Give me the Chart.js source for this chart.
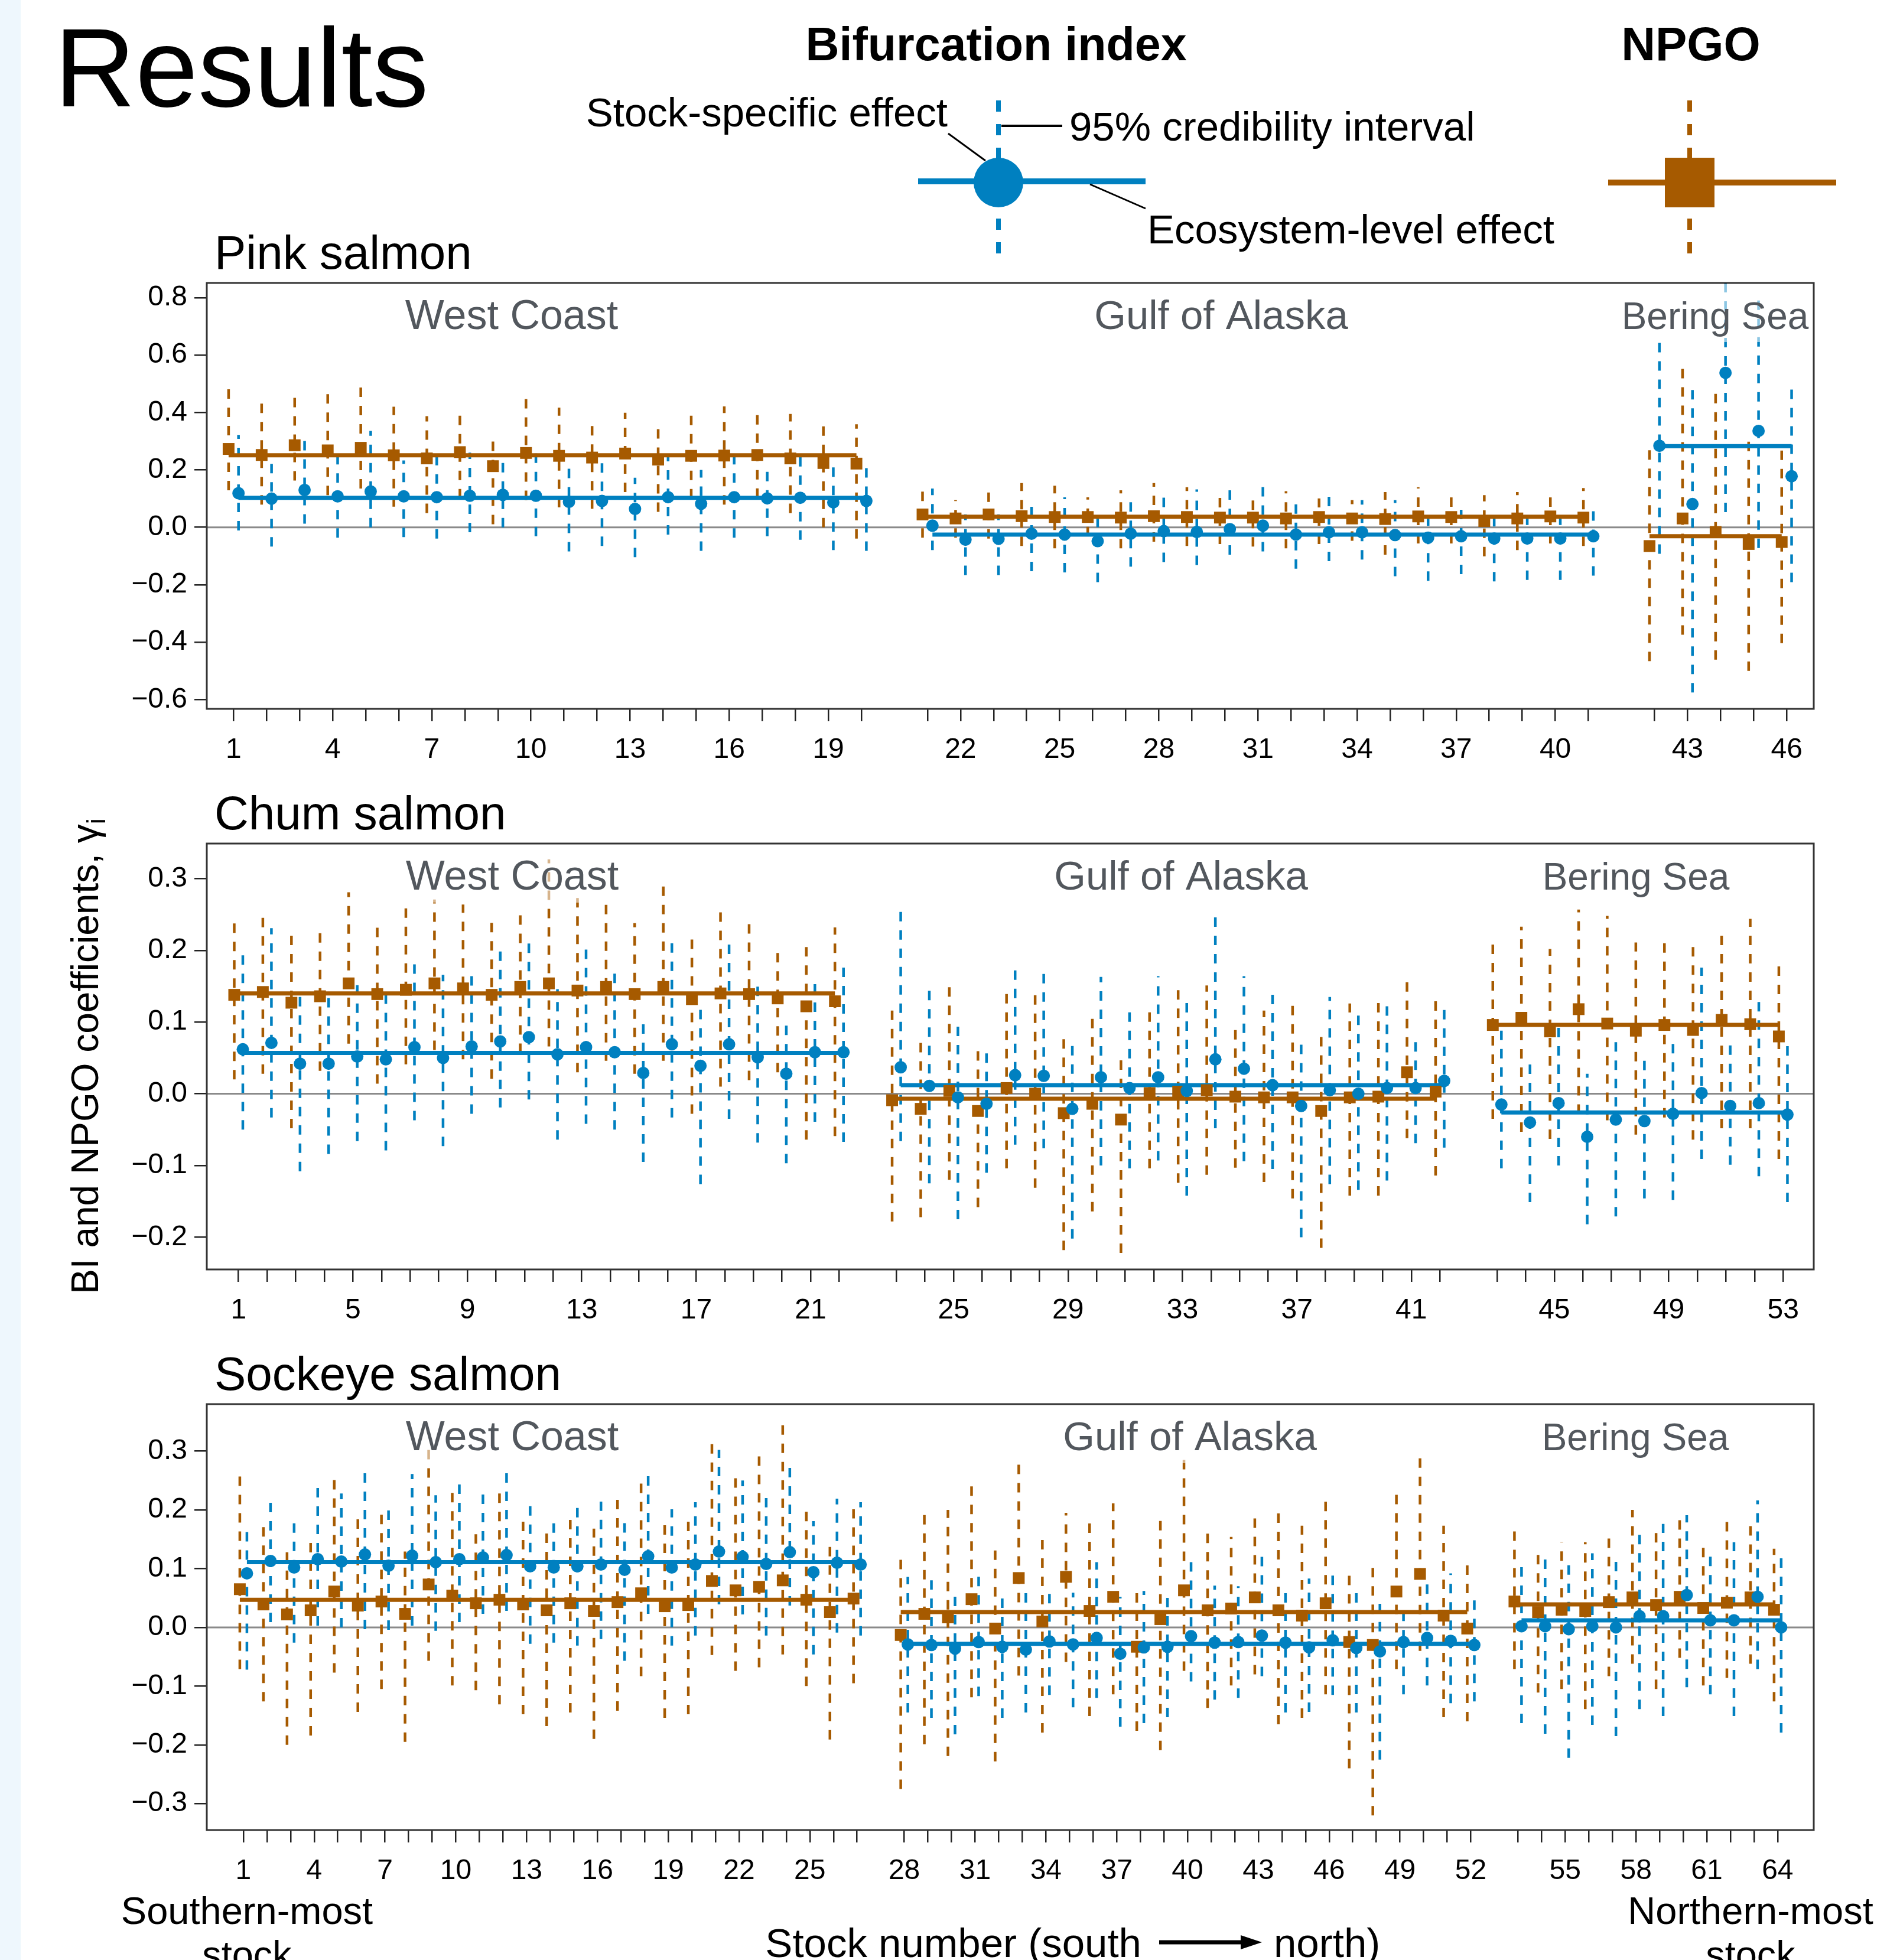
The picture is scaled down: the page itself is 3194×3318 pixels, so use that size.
<!DOCTYPE html>
<html>
<head>
<meta charset="utf-8">
<script src="https://cdn.jsdelivr.net/npm/chart.js@4.4.1/dist/chart.umd.min.js"></script>
<style>
  html, body { margin: 0; padding: 0; background: #fff; }
  body { width: 3194px; height: 3318px; position: relative; overflow: hidden; }
  #strip { position: absolute; left: 0; top: 0; width: 35px; height: 3318px; background: #eef7fd; }
  canvas { position: absolute; left: 0; }
  svg { position: absolute; left: 0; top: 0; pointer-events: none; }
</style>
</head>
<body>
<div id="strip"></div>
<canvas id="pink" width="3194" height="871" style="top:449px"></canvas>
<canvas id="chum" width="3194" height="871" style="top:1398px"></canvas>
<canvas id="sockeye" width="3194" height="871" style="top:2347px"></canvas>

<svg width="3194" height="3318" font-family="'Liberation Sans', Arial, sans-serif">
  <text x="92" y="180" font-size="190">Results</text>
  <text x="1686" y="102" font-size="79" font-weight="bold" text-anchor="middle">Bifurcation index</text>
  <text x="2862" y="102" font-size="80" font-weight="bold" text-anchor="middle">NPGO</text>

  <!-- key: bifurcation index -->
  <line x1="1690" y1="170" x2="1690" y2="440" stroke="#0080c0" stroke-width="8" stroke-dasharray="19 21"/>
  <line x1="1554" y1="307" x2="1939" y2="307" stroke="#0080c0" stroke-width="10"/>
  <circle cx="1690" cy="309" r="42" fill="#0080c0"/>
  <text x="1604" y="214" font-size="69" text-anchor="end">Stock-specific effect</text>
  <line x1="1605" y1="226" x2="1668" y2="272" stroke="#000" stroke-width="3"/>
  <line x1="1695" y1="213" x2="1798" y2="213" stroke="#000" stroke-width="4"/>
  <text x="1810" y="238" font-size="69">95% credibility interval</text>
  <line x1="1845" y1="312" x2="1939" y2="353" stroke="#000" stroke-width="3"/>
  <text x="1942" y="412" font-size="69">Ecosystem-level effect</text>

  <!-- key: NPGO -->
  <line x1="2860" y1="170" x2="2860" y2="440" stroke="#a65a00" stroke-width="8" stroke-dasharray="19 21"/>
  <line x1="2722" y1="309" x2="3108" y2="309" stroke="#a65a00" stroke-width="10"/>
  <rect x="2818" y="267" width="84" height="84" fill="#a65a00"/>

  <!-- panel titles -->
  <text x="363" y="455" font-size="80">Pink salmon</text>
  <text x="363" y="1404" font-size="80">Chum salmon</text>
  <text x="363" y="2353" font-size="80">Sockeye salmon</text>

  <!-- y axis title -->
  <text transform="translate(166,1788) rotate(-90)" font-size="64" text-anchor="middle">BI and NPGO coefficients, γ<tspan font-size="45" dy="12">i</tspan></text>

  <!-- bottom labels -->
  <text x="418" y="3257" font-size="65" text-anchor="middle">Southern-most</text>
  <text x="418" y="3331" font-size="65" text-anchor="middle">stock</text>
  <text x="2963" y="3257" font-size="65" text-anchor="middle">Northern-most</text>
  <text x="2963" y="3331" font-size="65" text-anchor="middle">stock</text>
  <text x="1932" y="3313" font-size="69" text-anchor="end">Stock number (south</text>
  <line x1="1962" y1="3288" x2="2104" y2="3288" stroke="#000" stroke-width="7"/>
  <polygon points="2100,3276 2136,3288 2100,3300" fill="#000"/>
  <text x="2156" y="3313" font-size="69">north)</text>
</svg>

<script>
// ---- colours ----
const BLUE = '#0080c0';
const BROWN = '#a65a00';
Chart.defaults.font.family = "'Liberation Sans', Arial, sans-serif";

// ================= PINK SALMON =================
const pinkRegions = [20, 21, 5];   // West Coast, Gulf of Alaska, Bering Sea
const pinkTickLabels = [1, 4, 7, 10, 13, 16, 19, 22, 25, 28, 31, 34, 37, 40, 43, 46];
const pinkYTicks = [-0.6, -0.4, -0.2, 0, 0.2, 0.4, 0.6, 0.8];

const pinkNPGO = [0.273, 0.252, 0.286, 0.268, 0.277, 0.251, 0.240, 0.262, 0.213, 0.259, 0.249, 0.243, 0.257, 0.236, 0.249, 0.250, 0.252, 0.240, 0.224, 0.222,
  0.045, 0.031, 0.045, 0.039, 0.036, 0.036, 0.034, 0.039, 0.036, 0.034, 0.034, 0.031, 0.036, 0.031, 0.029, 0.038, 0.036, 0.022, 0.031, 0.038, 0.034,
  -0.065, 0.031, -0.016, -0.058, -0.051];
const pinkNPGOLo = [0.129, 0.079, 0.163, 0.112, 0.135, 0.072, 0.050, 0.101, 0.011, 0.095, 0.070, 0.065, 0.123, 0.054, 0.101, 0.079, 0.103, 0.050, 0.000, -0.039,
  -0.036, -0.036, -0.039, -0.065, -0.073, -0.031, -0.073, -0.050, -0.065, -0.058, -0.067, -0.073, -0.058, -0.047, -0.095, -0.056, -0.056, -0.101, -0.079, -0.056, -0.065,
  -0.466, -0.374, -0.461, -0.500, -0.403];
const pinkNPGOHi = [0.490, 0.437, 0.459, 0.479, 0.497, 0.420, 0.387, 0.417, 0.308, 0.457, 0.417, 0.363, 0.399, 0.352, 0.395, 0.421, 0.398, 0.395, 0.359, 0.359,
  0.132, 0.095, 0.123, 0.154, 0.145, 0.105, 0.129, 0.154, 0.140, 0.103, 0.095, 0.126, 0.101, 0.095, 0.123, 0.140, 0.105, 0.112, 0.123, 0.105, 0.137,
  0.287, 0.579, 0.494, 0.320, 0.282];
const pinkBI = [0.119, 0.100, 0.130, 0.108, 0.125, 0.108, 0.105, 0.110, 0.113, 0.110, 0.089, 0.092, 0.064, 0.105, 0.082, 0.105, 0.101, 0.103, 0.087, 0.092,
  0.006, -0.043, -0.040, -0.022, -0.025, -0.048, -0.022, -0.013, -0.016, -0.006, 0.006, -0.025, -0.017, -0.017, -0.027, -0.036, -0.031, -0.039, -0.039, -0.039, -0.031,
  0.284, 0.081, 0.538, 0.336, 0.178];
const pinkBILo = [-0.011, -0.067, 0.013, -0.036, 0.000, -0.034, -0.039, -0.017, 0.000, -0.031, -0.084, -0.065, -0.104, -0.025, -0.082, -0.036, -0.031, -0.043, -0.079, -0.082,
  -0.079, -0.166, -0.166, -0.153, -0.157, -0.191, -0.137, -0.121, -0.131, -0.095, -0.084, -0.144, -0.118, -0.112, -0.170, -0.186, -0.163, -0.188, -0.183, -0.183, -0.168,
  -0.092, -0.575, 0.053, -0.072, -0.191];
const pinkBIHi = [0.322, 0.233, 0.303, 0.260, 0.336, 0.233, 0.258, 0.260, 0.233, 0.267, 0.215, 0.224, 0.173, 0.256, 0.200, 0.260, 0.202, 0.247, 0.213, 0.215,
  0.135, 0.045, 0.045, 0.079, 0.105, 0.036, 0.095, 0.110, 0.132, 0.131, 0.148, 0.095, 0.110, 0.095, 0.095, 0.067, 0.070, 0.067, 0.067, 0.056, 0.062,
  0.660, 0.507, 0.950, 0.814, 0.497];
const pinkEcoNPGO = [0.251, 0.037, -0.031];
const pinkEcoBI = [0.103, -0.025, 0.283];

// ================= CHUM SALMON =================
const chumRegions = [22, 20, 11];
const chumTickLabels = [1, 5, 9, 13, 17, 21, 25, 29, 33, 37, 41, 45, 49, 53];
const chumYTicks = [-0.2, -0.1, 0, 0.1, 0.2, 0.3];

const chumNPGO = [0.138, 0.142, 0.127, 0.136, 0.154, 0.139, 0.145, 0.154, 0.147, 0.138, 0.149, 0.154, 0.144, 0.149, 0.139, 0.149, 0.132, 0.140, 0.139, 0.133, 0.122, 0.129,
  -0.009, -0.021, 0.004, -0.024, 0.008, 0.000, -0.027, -0.014, -0.036, 0.001, 0.003, 0.005, -0.004, -0.005, -0.005, -0.024, -0.005, -0.004, 0.030, 0.003,
  0.096, 0.106, 0.087, 0.118, 0.098, 0.088, 0.096, 0.089, 0.103, 0.097, 0.080];
const chumNPGOLo = [0.020, 0.028, -0.048, 0.032, 0.070, 0.014, 0.041, 0.061, 0.048, 0.021, 0.057, 0.066, 0.030, 0.046, 0.028, 0.046, -0.028, 0.010, 0.019, 0.030, -0.064, -0.059,
  -0.178, -0.172, -0.120, -0.158, -0.104, -0.131, -0.218, -0.164, -0.222, -0.104, -0.124, -0.113, -0.103, -0.123, -0.146, -0.215, -0.142, -0.142, -0.062, -0.114,
  -0.035, -0.053, -0.063, -0.028, -0.037, -0.057, -0.033, -0.064, -0.048, -0.048, -0.091];
const chumNPGOHi = [0.242, 0.251, 0.221, 0.224, 0.281, 0.239, 0.261, 0.271, 0.264, 0.242, 0.254, 0.327, 0.278, 0.271, 0.238, 0.295, 0.222, 0.258, 0.241, 0.203, 0.211, 0.232,
  0.125, 0.078, 0.156, 0.066, 0.146, 0.139, 0.079, 0.106, 0.053, 0.121, 0.153, 0.151, 0.093, 0.116, 0.130, 0.084, 0.126, 0.132, 0.162, 0.136,
  0.214, 0.233, 0.202, 0.257, 0.248, 0.211, 0.222, 0.212, 0.229, 0.244, 0.185];
const chumBI = [0.062, 0.071, 0.042, 0.042, 0.052, 0.048, 0.065, 0.050, 0.066, 0.073, 0.079, 0.055, 0.065, 0.058, 0.029, 0.069, 0.039, 0.069, 0.051, 0.028, 0.058, 0.058,
  0.037, 0.011, -0.005, -0.014, 0.026, 0.025, -0.021, 0.023, 0.008, 0.023, 0.004, 0.048, 0.035, 0.012, -0.017, 0.005, 0.000, 0.008, 0.008, 0.018,
  -0.015, -0.040, -0.013, -0.060, -0.036, -0.038, -0.028, 0.001, -0.017, -0.013, -0.029];
const chumBILo = [-0.050, -0.033, -0.108, -0.084, -0.066, -0.079, -0.037, -0.073, -0.028, -0.019, -0.008, -0.064, -0.042, -0.050, -0.095, -0.033, -0.126, -0.035, -0.068, -0.097, -0.039, -0.067,
  -0.066, -0.125, -0.175, -0.110, -0.071, -0.076, -0.202, -0.100, -0.104, -0.093, -0.142, -0.048, -0.094, -0.105, -0.200, -0.126, -0.134, -0.121, -0.069, -0.075,
  -0.104, -0.151, -0.100, -0.182, -0.171, -0.146, -0.148, -0.091, -0.099, -0.115, -0.151];
const chumBIHi = [0.200, 0.231, 0.142, 0.142, 0.157, 0.144, 0.188, 0.166, 0.168, 0.204, 0.215, 0.146, 0.208, 0.173, 0.104, 0.213, 0.124, 0.215, 0.155, 0.101, 0.159, 0.184,
  0.260, 0.150, 0.102, 0.057, 0.179, 0.175, 0.074, 0.163, 0.120, 0.164, 0.130, 0.255, 0.164, 0.139, 0.075, 0.135, 0.109, 0.129, 0.075, 0.123,
  0.092, 0.046, 0.095, 0.028, 0.075, 0.052, 0.079, 0.176, 0.072, 0.136, 0.075];
const chumEcoNPGO = [0.140, -0.007, 0.096];
const chumEcoBI = [0.057, 0.012, -0.026];

// ================= SOCKEYE SALMON =================
const sockRegions = [27, 25, 12];
const sockTickLabels = [1, 4, 7, 10, 13, 16, 19, 22, 25, 28, 31, 34, 37, 40, 43, 46, 49, 52, 55, 58, 61, 64];
const sockYTicks = [-0.3, -0.2, -0.1, 0, 0.1, 0.2, 0.3];

const sockNPGO = [0.065, 0.039, 0.022, 0.029, 0.061, 0.037, 0.044, 0.023, 0.073, 0.054, 0.041, 0.047, 0.039, 0.029, 0.041, 0.028, 0.043, 0.058, 0.036, 0.038, 0.079, 0.063, 0.069, 0.080, 0.047, 0.026, 0.049,
  -0.013, 0.023, 0.017, 0.048, -0.002, 0.084, 0.010, 0.086, 0.028, 0.052, -0.033, 0.014, 0.063, 0.029, 0.032, 0.051, 0.029, 0.020, 0.041, -0.025, -0.030, 0.061, 0.091, 0.020, -0.002,
  0.044, 0.026, 0.030, 0.028, 0.043, 0.051, 0.038, 0.052, 0.033, 0.042, 0.051, 0.030];
const sockNPGOLo = [-0.071, -0.126, -0.200, -0.184, -0.077, -0.144, -0.105, -0.195, -0.057, -0.099, -0.107, -0.131, -0.148, -0.168, -0.145, -0.190, -0.142, -0.083, -0.154, -0.148, -0.047, -0.074, -0.068, -0.046, -0.100, -0.191, -0.095,
  -0.275, -0.199, -0.219, -0.119, -0.228, -0.082, -0.179, -0.059, -0.151, -0.114, -0.176, -0.209, -0.074, -0.137, -0.099, -0.080, -0.165, -0.154, -0.114, -0.240, -0.320, -0.071, -0.040, -0.153, -0.160,
  -0.071, -0.111, -0.105, -0.139, -0.083, -0.062, -0.105, -0.052, -0.099, -0.086, -0.062, -0.126];
const sockNPGOHi = [0.268, 0.179, 0.139, 0.154, 0.261, 0.189, 0.192, 0.129, 0.312, 0.238, 0.168, 0.235, 0.190, 0.163, 0.194, 0.168, 0.217, 0.253, 0.185, 0.191, 0.322, 0.261, 0.302, 0.353, 0.203, 0.146, 0.201,
  0.128, 0.205, 0.200, 0.248, 0.145, 0.288, 0.157, 0.195, 0.188, 0.211, 0.066, 0.182, 0.287, 0.169, 0.154, 0.197, 0.206, 0.173, 0.216, 0.096, 0.115, 0.231, 0.300, 0.173, 0.115,
  0.166, 0.126, 0.145, 0.145, 0.158, 0.200, 0.166, 0.185, 0.144, 0.185, 0.179, 0.134];
const sockBI = [0.092, 0.113, 0.102, 0.116, 0.112, 0.124, 0.105, 0.122, 0.111, 0.116, 0.119, 0.123, 0.104, 0.102, 0.104, 0.107, 0.098, 0.121, 0.102, 0.107, 0.129, 0.120, 0.108, 0.128, 0.094, 0.110, 0.107,
  -0.029, -0.030, -0.036, -0.025, -0.033, -0.038, -0.024, -0.029, -0.018, -0.045, -0.034, -0.033, -0.015, -0.026, -0.025, -0.014, -0.026, -0.034, -0.022, -0.035, -0.041, -0.025, -0.018, -0.023, -0.030,
  0.002, 0.002, -0.003, 0.002, 0.000, 0.019, 0.019, 0.055, 0.012, 0.012, 0.052, 0.000];
const sockBILo = [-0.072, 0.009, -0.026, 0.003, 0.000, -0.003, -0.004, 0.003, -0.006, 0.009, 0.023, 0.028, -0.028, -0.026, -0.031, -0.020, -0.057, 0.023, -0.031, -0.014, 0.039, 0.022, -0.014, 0.037, -0.046, -0.009, -0.014,
  -0.145, -0.154, -0.182, -0.117, -0.154, -0.145, -0.115, -0.136, -0.120, -0.169, -0.163, -0.153, -0.092, -0.123, -0.120, -0.083, -0.145, -0.144, -0.115, -0.145, -0.225, -0.114, -0.099, -0.129, -0.126,
  -0.163, -0.181, -0.222, -0.166, -0.185, -0.139, -0.151, -0.102, -0.114, -0.151, -0.071, -0.179];
const sockBIHi = [0.169, 0.219, 0.185, 0.243, 0.228, 0.268, 0.199, 0.261, 0.225, 0.245, 0.232, 0.265, 0.208, 0.183, 0.210, 0.214, 0.185, 0.263, 0.201, 0.213, 0.302, 0.250, 0.220, 0.279, 0.181, 0.219, 0.213,
  0.086, 0.080, 0.060, 0.091, 0.052, 0.065, 0.068, 0.059, 0.111, 0.052, 0.062, 0.059, 0.117, 0.071, 0.070, 0.120, 0.062, 0.083, 0.097, 0.062, 0.040, 0.040, 0.086, 0.092, 0.052,
  0.111, 0.126, 0.115, 0.126, 0.120, 0.169, 0.176, 0.191, 0.126, 0.145, 0.216, 0.121];
const sockEcoNPGO = [0.047, 0.026, 0.039];
const sockEcoBI = [0.111, -0.028, 0.012];

const regionNames = ['West Coast', 'Gulf of Alaska', 'Bering Sea'];

// --- helpers ---
// x position of each stock: one empty slot between regions
function stockPositions(regions) {
  const out = [];
  regions.forEach((n, r) => {
    for (let k = 0; k < n; k++) out.push(out.length + 1 + r);
  });
  return out;
}

// vertical segments lo->hi, separated by null gaps
function intervalData(xs, lo, hi, dx) {
  const d = [];
  xs.forEach((x, i) => {
    d.push({ x: x + dx, y: lo[i] }, { x: x + dx, y: hi[i] }, { x: x + dx, y: null });
  });
  return d;
}

// one horizontal segment per region, from first to last stock
function ecoData(xs, regions, eco, dx) {
  const d = [];
  let start = 0;
  regions.forEach((n, r) => {
    const a = xs[start] + dx, b = xs[start + n - 1] + dx;
    d.push({ x: a, y: eco[r] }, { x: b, y: eco[r] }, { x: b, y: null });
    start += n;
  });
  return d;
}

function pointData(xs, vals, dx) {
  return xs.map((x, i) => ({ x: x + dx, y: vals[i] }));
}

// zero line + frame + region names
const panelDecor = {
  id: 'panelDecor',
  beforeDatasetsDraw(chart) {
    const { ctx, chartArea } = chart;
    const y0 = chart.scales.y.getPixelForValue(0);
    ctx.save();
    ctx.strokeStyle = '#8a8a8a';
    ctx.lineWidth = 3;
    ctx.beginPath();
    ctx.moveTo(chartArea.left, y0);
    ctx.lineTo(chartArea.right, y0);
    ctx.stroke();
    ctx.restore();
  },
  afterDatasetsDraw(chart, args, opts) {
    const { ctx, chartArea } = chart;
    ctx.save();
    ctx.textAlign = 'center';
    ctx.textBaseline = 'alphabetic';
    const base = chartArea.top + 78;
    opts.labelX.forEach((x, i) => {
      ctx.font = opts.labelSize[i] + "px 'Liberation Sans', Arial, sans-serif";
      const w = ctx.measureText(regionNames[i]).width;
      ctx.fillStyle = 'rgba(255,255,255,0.55)';
      ctx.fillRect(x - w / 2 - 4, chartArea.top + 2, w + 8, base - chartArea.top + 20);
      ctx.fillStyle = '#52575d';
      ctx.fillText(regionNames[i], x, base);
    });
    ctx.strokeStyle = '#333';
    ctx.lineWidth = 3;
    ctx.strokeRect(chartArea.left, chartArea.top, chartArea.right - chartArea.left, chartArea.bottom - chartArea.top);
    ctx.restore();
  }
};

function makePanel(id, p) {
  const xs = stockPositions(p.regions);
  const stockAt = {};
  xs.forEach((x, i) => { stockAt[x] = i + 1; });
  const dx = 0.15;

  new Chart(document.getElementById(id), {
    type: 'line',
    data: {
      datasets: [
        { data: intervalData(xs, p.npgoLo, p.npgoHi, -dx), borderColor: BROWN, borderWidth: 4.5, borderDash: [16, 15], pointRadius: 0, order: 6 },
        { data: intervalData(xs, p.biLo, p.biHi, dx), borderColor: BLUE, borderWidth: 4.5, borderDash: [16, 15], pointRadius: 0, order: 5 },
        { data: ecoData(xs, p.regions, p.ecoNPGO, -dx), borderColor: BROWN, borderWidth: 7, pointRadius: 0, order: 4 },
        { data: ecoData(xs, p.regions, p.ecoBI, dx), borderColor: BLUE, borderWidth: 7, pointRadius: 0, order: 3 },
        { data: pointData(xs, p.npgo, -dx), showLine: false, pointStyle: 'rect', pointRadius: 14.1,
          backgroundColor: BROWN, borderColor: BROWN, borderWidth: 0, order: 2 },
        { data: pointData(xs, p.bi, dx), showLine: false, pointStyle: 'circle', pointRadius: 10.5,
          backgroundColor: BLUE, borderColor: BLUE, borderWidth: 0, order: 1 }
      ]
    },
    options: {
      responsive: false,
      animation: false,
      devicePixelRatio: 1,
      spanGaps: false,
      events: [],
      layout: { padding: { top: 30, right: 124, left: 0, bottom: 0 } },
      plugins: {
        legend: { display: false },
        tooltip: { enabled: false },
        panelDecor: { labelX: p.labelX, labelSize: [70, 69, 64] }
      },
      scales: {
        x: {
          type: 'linear',
          min: p.xMin, max: p.xMax,
          border: { display: false },
          grid: { drawOnChartArea: false, drawTicks: true, tickLength: 21, color: '#222', lineWidth: 2.5 },
          ticks: {
            autoSkip: false, maxRotation: 0, minRotation: 0, padding: 20,
            color: '#000', font: { size: 48 },
            callback: v => (p.tickLabels.includes(stockAt[v]) ? String(stockAt[v]) : '')
          },
          afterBuildTicks: s => { s.ticks = xs.map(v => ({ value: v })); },
          afterFit: s => { s.height = 120; s.paddingLeft = 0; s.paddingRight = 0; }
        },
        y: {
          min: p.yMin, max: p.yMax,
          border: { display: false },
          grid: { drawOnChartArea: false, drawTicks: true, tickLength: 21, color: '#222', lineWidth: 2.5 },
          ticks: {
            padding: 12, color: '#000', font: { size: 48 },
            callback: v => (v < -1e-9 ? '\u2212' : '') + Math.abs(v).toFixed(1)
          },
          afterBuildTicks: s => { s.ticks = p.yTicks.map(v => ({ value: v })); },
          afterFit: s => { s.width = 350; s.paddingTop = 0; s.paddingBottom = 0; }
        }
      }
    },
    plugins: [panelDecor]
  });
}

makePanel('pink', {
  regions: pinkRegions, tickLabels: pinkTickLabels, yTicks: pinkYTicks,
  npgo: pinkNPGO, npgoLo: pinkNPGOLo, npgoHi: pinkNPGOHi,
  bi: pinkBI, biLo: pinkBILo, biHi: pinkBIHi,
  ecoNPGO: pinkEcoNPGO, ecoBI: pinkEcoBI,
  xMin: 0.19, xMax: 48.82, yMin: -0.632, yMax: 0.851,
  labelX: [866, 2067, 2903]
});

makePanel('chum', {
  regions: chumRegions, tickLabels: chumTickLabels, yTicks: chumYTicks,
  npgo: chumNPGO, npgoLo: chumNPGOLo, npgoHi: chumNPGOHi,
  bi: chumBI, biLo: chumBILo, biHi: chumBIHi,
  ecoNPGO: chumEcoNPGO, ecoBI: chumEcoBI,
  xMin: -0.11, xMax: 56.07, yMin: -0.245, yMax: 0.349,
  labelX: [867, 1999, 2769]
});

makePanel('sockeye', {
  regions: sockRegions, tickLabels: sockTickLabels, yTicks: sockYTicks,
  npgo: sockNPGO, npgoLo: sockNPGOLo, npgoHi: sockNPGOHi,
  bi: sockBI, biLo: sockBILo, biHi: sockBIHi,
  ecoNPGO: sockEcoNPGO, ecoBI: sockEcoBI,
  xMin: -0.55, xMax: 67.53, yMin: -0.345, yMax: 0.380,
  labelX: [867, 2014, 2768]
});
</script>
</body>
</html>
